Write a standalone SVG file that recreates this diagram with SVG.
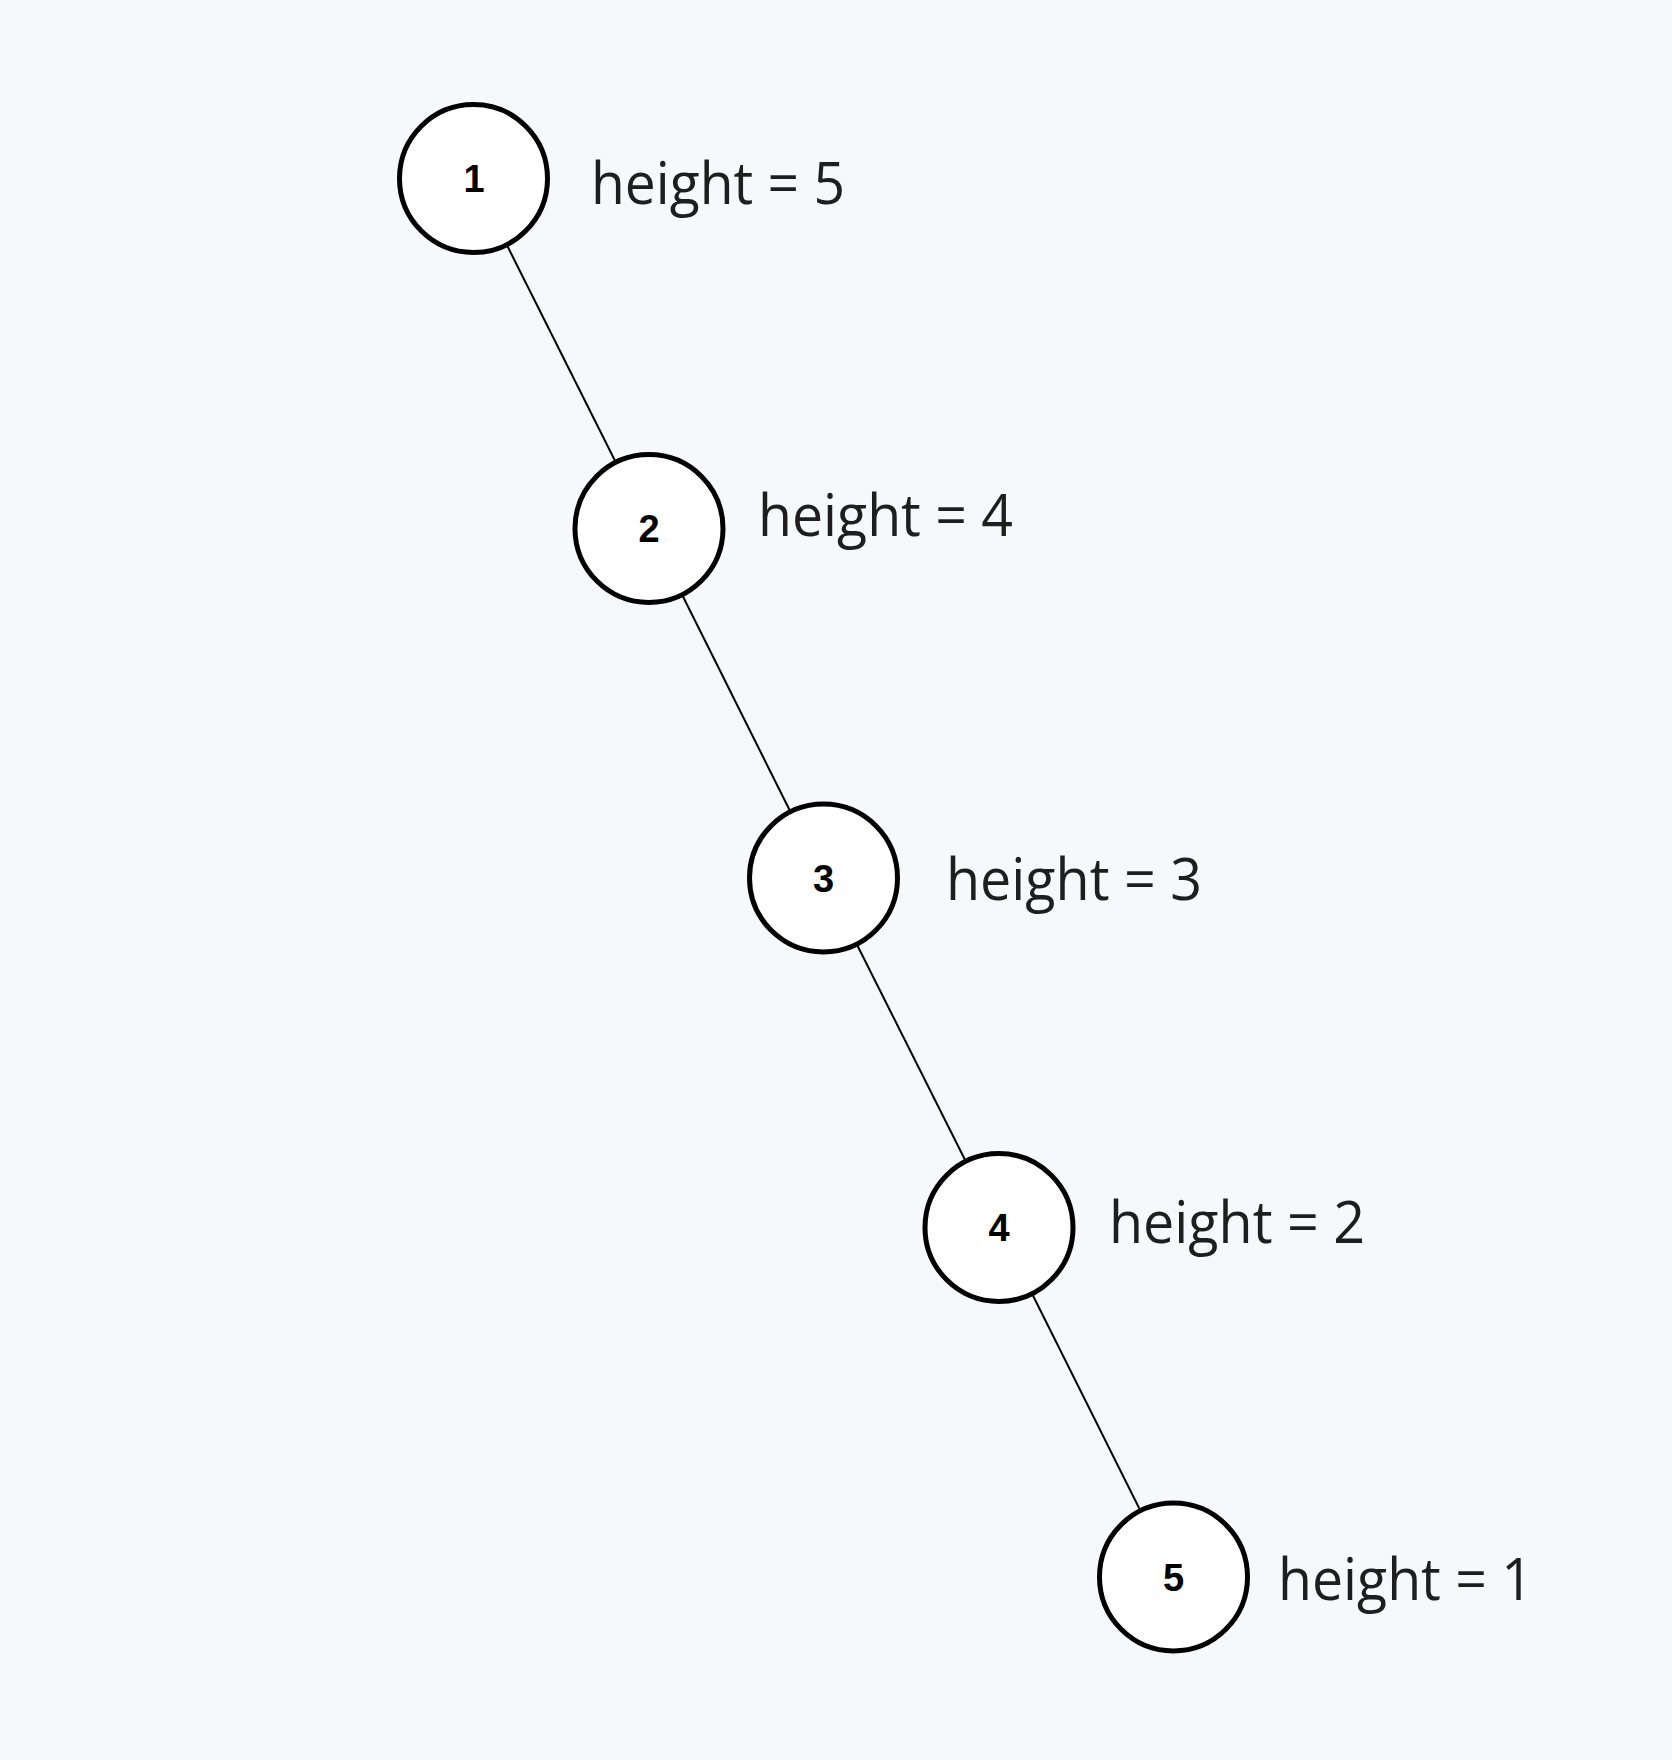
<svg xmlns="http://www.w3.org/2000/svg" width="1672" height="1760" viewBox="0 0 1672 1760">
<style>
.bg{fill:#f7f8fc}
.node circle{fill:#ffffff;stroke:#000000;stroke-width:5}
.node text.num{font-family:"Liberation Sans",Arial,sans-serif;font-weight:bold;font-size:38px;fill:#000000;text-anchor:middle}
.lbl{font-family:"Open Sans","Noto Sans",sans-serif;font-size:58px;fill:#1e1e1e}
.edges line{stroke:#000000;stroke-width:2}
</style>
<rect class="bg" x="0" y="0" width="1672" height="1760"/>
<g id="connectors" class="edges">
<line x1="473.5" y1="178.5" x2="649" y2="528.5"/>
<line x1="649" y1="528.5" x2="823.5" y2="878"/>
<line x1="823.5" y1="878" x2="999" y2="1227.5"/>
<line x1="999" y1="1227.5" x2="1173.5" y2="1577"/>
</g>
<g id="node1" class="node">
<circle cx="473.5" cy="178.5" r="74"/>
<text class="num" x="474" y="192">1</text>
<text class="lbl" x="591" y="204" textLength="254" lengthAdjust="spacingAndGlyphs">height = 5</text>
</g>
<g id="node2" class="node">
<circle cx="649" cy="528.5" r="74"/>
<text class="num" x="649" y="542">2</text>
<text class="lbl" x="758" y="536" textLength="255" lengthAdjust="spacingAndGlyphs">height = 4</text>
</g>
<g id="node3" class="node">
<circle cx="823.5" cy="878" r="74"/>
<text class="num" x="823.5" y="892">3</text>
<text class="lbl" x="946" y="900" textLength="256" lengthAdjust="spacingAndGlyphs">height = 3</text>
</g>
<g id="node4" class="node">
<circle cx="999" cy="1227.5" r="74"/>
<text class="num" x="999" y="1241">4</text>
<text class="lbl" x="1109" y="1243" textLength="256" lengthAdjust="spacingAndGlyphs">height = 2</text>
</g>
<g id="node5" class="node">
<circle cx="1173.5" cy="1577" r="74"/>
<text class="num" x="1173.5" y="1591">5</text>
<text class="lbl" x="1278" y="1600" textLength="255" lengthAdjust="spacingAndGlyphs">height = 1</text>
</g>
</svg>
